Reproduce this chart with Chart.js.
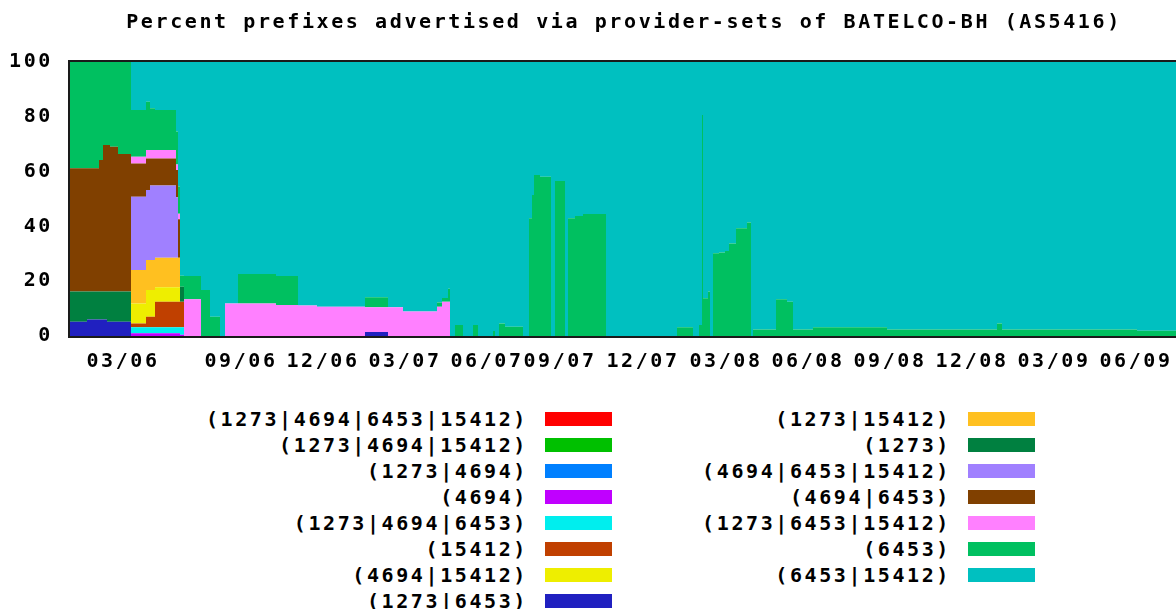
<!DOCTYPE html>
<html>
<head>
<meta charset="utf-8">
<script src="https://cdn.jsdelivr.net/npm/chart.js@4.4.1/dist/chart.umd.min.js"></script>
<style>
  html, body { margin: 0; padding: 0; background: #fff; overflow: hidden; }
  #wrap { position: relative; width: 1248px; height: 609px; }
  #chart { position: absolute; left: 0; top: 0; }
  .leg { position: absolute; left: 0; font: bold 20px 'DejaVu Sans Mono', monospace; letter-spacing: 2.6px;
         line-height: 26px; height: 26px; white-space: nowrap; color: #000; text-align: right; }
  .box { position: absolute; width: 67px; height: 14px; }
</style>
</head>
<body>
<div id="wrap">
  <canvas id="chart" width="1248" height="406"></canvas>
  <div id="legend"></div>
</div>
<script>
// provider-set names, in stacking order (bottom first)
const labels = [
  '(1273|4694|6453|15412)', '(1273|4694|15412)', '(1273|4694)', '(4694)',
  '(1273|4694|6453)', '(15412)', '(4694|15412)', '(1273|6453)',
  '(1273|15412)', '(1273)', '(4694|6453|15412)', '(4694|6453)',
  '(1273|6453|15412)', '(6453)', '(6453|15412)'
];
const colors = [
  '#ff0000', '#00c000', '#0080ff', '#c000ff',
  '#00eeee', '#c04000', '#eeee00', '#2020c0',
  '#ffc020', '#008040', '#a080ff', '#804000',
  '#ff80ff', '#00c060', '#00c0c0'
];

// each series: [sample position, percent] at the points where its share changes
const s_1273_4694_6453_15412 = [[0, 0]];
const s_1273_4694_15412 = [[0, 0]];
const s_1273_4694 = [[0, 0]];
const s_4694 = [[0, 0], [61, 1], [110, 0.5], [114, 0]];
const s_1273_4694_6453 = [[0, 0], [61, 2.2], [110, 2.7], [114, 0]];
const s_15412 = [[0, 0], [61, 1.4], [76, 3.8], [85, 9.3], [114, 0]];
const s_4694_15412 = [[0, 0], [61, 7.3], [76, 9.8], [85, 5.3], [110, 0]];
const s_1273_6453 = [[0, 5.2], [17, 6], [37, 5.2], [61, 0], [295, 1.5], [318, 0]];
const s_1273_15412 = [[0, 0], [61, 12.2], [76, 10.9], [85, 10.8], [110, 0]];
const s_1273 = [[0, 11], [17, 10.2], [37, 11], [61, 0], [110, 5.5], [114, 0]];
const s_4694_6453_15412 = [[0, 0], [61, 26.7], [76, 25.6], [80, 27.2], [85, 26.3], [106, 22], [108, 0]];
const s_4694_6453 = [[0, 45], [29, 48], [33, 53.5], [40, 52.9], [48, 50.2], [61, 12.2], [76, 11.5],
  [80, 9.9], [106, 10], [108, 14], [110, 0]];
const s_1273_6453_15412 = [[0, 0], [61, 2.4], [76, 3.1], [106, 2], [110, 0], [114, 13.4], [131, 0],
  [155, 11.9], [206, 11.3], [228, 11.1], [247, 10.7], [295, 9], [318, 10.5], [333, 8.9],
  [367, 10.7], [372, 12.5], [380, 0]];
const s_6453 = [[0, 38.8], [29, 35.8], [33, 30.3], [40, 30.9], [48, 33.6], [61, 17.1], [76, 17.6],
  [80, 15.2], [85, 14.6], [106, 12], [108, 10], [110, 4], [114, 8.5], [131, 16.8], [140, 7],
  [150, 0], [168, 10.7], [206, 10.6], [228, 0], [295, 3.6], [318, 0], [367, 1.5], [372, 1.4],
  [378, 4.7], [380, 0], [385, 4], [393, 0], [403, 4], [408, 0], [423, 1.8], [425, 0], [429, 4.6],
  [435, 3.4], [453, 0], [459, 43], [462, 51.5], [464, 58.8], [470, 58.1], [481, 0], [485, 56.6],
  [495, 0], [498, 43], [505, 43.8], [513, 44.5], [536, 0], [607, 3.2], [623, 0], [629, 4],
  [632, 80.7], [633, 13.8], [638, 16.2], [640, 0], [643, 30.2], [649, 30.5], [655, 31],
  [659, 33.8], [666, 39.3], [677, 41.4], [681, 0], [683, 2.4], [706, 13.4], [717, 12.5],
  [723, 2.4], [743, 3.2], [817, 2.4], [927, 4.6], [932, 2.4], [1067, 1.9]];
const s_6453_15412 = [[0, 0], [61, 17.5], [76, 14.5], [80, 16.9], [85, 17.5], [106, 25.4], [108, 45.4],
  [110, 78], [114, 78.1], [131, 83.2], [140, 93], [150, 100], [155, 88.1], [168, 77.4], [206, 78.1],
  [228, 88.9], [247, 89.3], [295, 85.9], [318, 89.5], [333, 91.1], [367, 87.8], [372, 86.1],
  [378, 82.8], [380, 100], [385, 96], [393, 100], [403, 96], [408, 100], [423, 98.2], [425, 100],
  [429, 95.4], [435, 96.6], [453, 100], [459, 57], [462, 48.5], [464, 41.2], [470, 41.9], [481, 100],
  [485, 43.4], [495, 100], [498, 57], [505, 56.2], [513, 55.5], [536, 100], [607, 96.8], [623, 100],
  [629, 96], [632, 19.3], [633, 86.2], [638, 83.8], [640, 100], [643, 69.8], [649, 69.5], [655, 69],
  [659, 66.2], [666, 60.7], [677, 58.6], [681, 100], [683, 97.6], [706, 86.6], [717, 87.5],
  [723, 97.6], [743, 96.8], [817, 97.6], [927, 95.4], [932, 97.6], [1067, 98.1]];

const series = [
  s_1273_4694_6453_15412, s_1273_4694_15412, s_1273_4694, s_4694,
  s_1273_4694_6453, s_15412, s_4694_15412, s_1273_6453,
  s_1273_15412, s_1273, s_4694_6453_15412, s_4694_6453,
  s_1273_6453_15412, s_6453, s_6453_15412
];

const lastSample = 1130;
const axisMax = 1178;
const tickPos = [53, 171, 253, 335, 417, 490, 573, 656, 738, 820, 902, 984, 1066];
const tickLabels = ['03/06', '09/06', '12/06', '03/07', '06/07', '09/07', '12/07',
  '03/08', '06/08', '09/08', '12/08', '03/09', '06/09'];

// all change points, so every dataset shares the same x values for stacking
let steps = [lastSample];
series.forEach(s => s.forEach(p => steps.push(p[0])));
steps = [...new Set(steps)].sort((a, b) => a - b);

function valueAt(s, x) {
  let v = 0;
  for (const p of s) { if (p[0] <= x) v = p[1]; }
  return v;
}

const datasets = series.map((s, i) => ({
  label: labels[i],
  data: steps.map(x => ({ x: x, y: valueAt(s, x) })),
  backgroundColor: colors[i],
  borderColor: colors[i],
  borderWidth: 0,
  pointRadius: 0,
  stepped: true,
  fill: i === 0 ? 'origin' : '-1'
}));

const monoFont = { family: "'DejaVu Sans Mono', monospace", size: 20, weight: 'bold' };

// wide bitmap-like text
const spacing = {
  id: 'spacing',
  beforeLayout(chart) { chart.ctx.letterSpacing = '2.6px'; },
  beforeDraw(chart) { chart.ctx.letterSpacing = '2.6px'; }
};

// dark frame round the plot
const frame = {
  id: 'frame',
  afterDatasetsDraw(chart) {
    const a = chart.chartArea;
    const c = chart.ctx;
    c.save();
    c.strokeStyle = '#1a1a1a';
    c.lineWidth = 2;
    c.strokeRect(a.left - 1, a.top - 1, a.right - a.left + 2, a.bottom - a.top + 2);
    c.restore();
  }
};

new Chart(document.getElementById('chart').getContext('2d'), {
  type: 'line',
  data: { datasets: datasets },
  options: {
    responsive: false,
    animation: false,
    devicePixelRatio: 1,
    layout: { padding: { left: 0, right: 0, top: 0, bottom: 18 } },
    plugins: {
      legend: { display: false },
      tooltip: { enabled: false },
      title: {
        display: true,
        text: 'Percent prefixes advertised via provider-sets of BATELCO-BH (AS5416)',
        color: '#000',
        font: monoFont,
        padding: { top: 11, bottom: 27 }
      }
    },
    scales: {
      x: {
        type: 'linear',
        min: 0,
        max: axisMax,
        grid: { display: false, drawTicks: false },
        border: { display: false },
        afterBuildTicks: axis => { axis.ticks = tickPos.map(v => ({ value: v })); },
        ticks: {
          autoSkip: false,
          maxRotation: 0,
          padding: 14,
          color: '#000',
          font: monoFont,
          callback: (v, i) => tickLabels[i]
        }
      },
      y: {
        stacked: true,
        min: 0,
        max: 100,
        afterFit: axis => { axis.width = 70; },
        grid: { display: false, drawTicks: false },
        border: { display: false },
        ticks: { stepSize: 20, padding: 17, color: '#000', font: monoFont }
      }
    }
  },
  plugins: [spacing, frame]
});

// legend: two columns, label right-aligned before its colour box
const legend = document.getElementById('legend');
labels.forEach((name, i) => {
  const col = i < 8 ? 0 : 1;
  const row = i < 8 ? i : i - 8;
  const textRight = col === 0 ? 528 : 951;
  const boxLeft = col === 0 ? 545 : 968;
  const cy = 419 + row * 26;

  const t = document.createElement('div');
  t.className = 'leg';
  t.style.width = textRight + 'px';
  t.style.top = (cy - 13) + 'px';
  t.textContent = name;
  legend.appendChild(t);

  const b = document.createElement('div');
  b.className = 'box';
  b.style.left = boxLeft + 'px';
  b.style.top = (cy - 7) + 'px';
  b.style.background = colors[i];
  legend.appendChild(b);
});
</script>
</body>
</html>
